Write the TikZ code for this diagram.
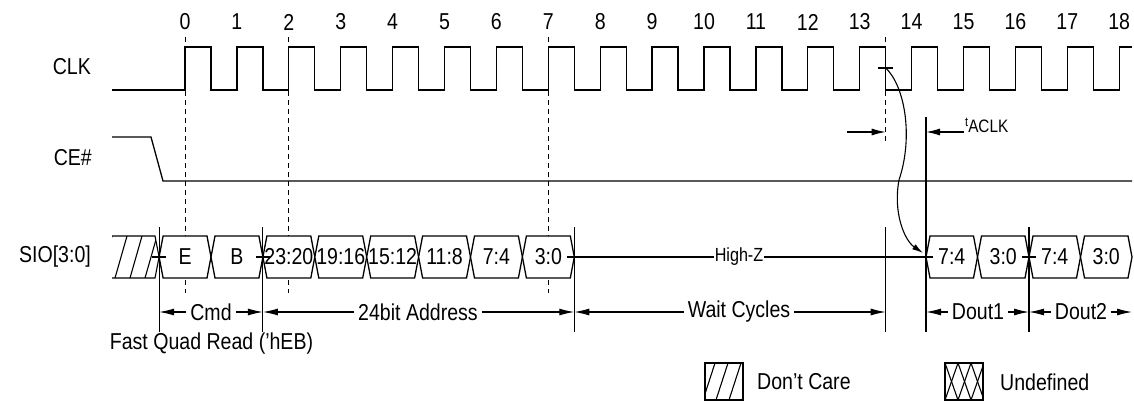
\documentclass[tikz,border=0pt]{standalone}
\usepackage{fontspec}
\setmainfont[FakeStretch=0.85]{Liberation Sans}
\usetikzlibrary{arrows.meta}
\tikzset{
  sig/.style={line width=1.3pt, line join=miter},
  thin/.style={line width=1.1pt},
  dsh/.style={line width=0.9pt, dash pattern=on 5pt off 4pt},
  lab/.style={font=\fontsize{23}{26}\selectfont, inner sep=0pt},
  numlab/.style={font=\fontsize{23}{26}\selectfont, inner sep=0pt},
  celltext/.style={font=\fontsize{23}{26}\selectfont, inner sep=0pt},
  brlab/.style={font=\fontsize{23}{26}\selectfont, inner sep=4pt},
  br/.style={line width=1.1pt, -{Latex[length=15pt,width=7pt]}},
  tarr/.style={line width=1.1pt, -{Latex[length=14pt,width=7pt]}},
}
\newcommand\buscell[4]{%
  \draw[sig,fill=white] (#1,257) -- ({#1+4},236) -- ({#2-4},236) -- (#2,257) -- ({#2-4},278) -- ({#1+4},278) -- cycle;
  \node[celltext] (#4) at ({(#1+#2)/2},257) {#3};}
\begin{document}
\begin{tikzpicture}[x=1pt,y=-1pt]
\useasboundingbox[fill=white] (0,0) rectangle (1134,404);

% signal labels
\node[lab,anchor=east] (lclk) at (91,67) {CLK};
\node[lab,anchor=east] (lce) at (92,158) {CE\#};
\node[lab,anchor=east] (lsio) at (91,257) {SIO[3:0]};

% cycle numbers
\foreach \i in {0,...,18} \node[numlab] (n\i) at ({185+51.9*\i},22) {\i};

% dashed reference lines
\draw[dsh] (185,37) -- (185,293);
\draw[dsh] (288.8,37) -- (288.8,293);
\draw[dsh] (548.3,37) -- (548.3,293);
\draw[dsh] (885.7,37) -- (885.7,143);

% clock
\draw[sig] (112,90) foreach \i in {0,...,17} { -- ({185+51.9*\i},90) -- ({185+51.9*\i},47) -- ({211+51.9*\i},47) -- ({211+51.9*\i},90) } -- (1119.2,90) -- (1119.2,47) -- (1132,47);

% CE#
\draw[sig] (112,137) -- (151,137) -- (163,181) -- (1132,181);

% don't care region on bus
\begin{scope}
  \clip (112,236) -- (155,236) -- (159.1,257) -- (155,278) -- (112,278) -- cycle;
  \foreach \x in {100,115,...,160} \draw[thin] (\x,278) -- ({\x+12},236);
\end{scope}
\draw[thin] (112,236) -- (155,236) -- (159.1,257) -- (155,278) -- (112,278);

% bus cells
\buscell{159.1}{211}{E}{cE}
\buscell{211}{262.9}{B}{cB}
\buscell{262.9}{314.8}{23:20}{a1}
\buscell{314.8}{366.7}{19:16}{a2}
\buscell{366.7}{418.6}{15:12}{a3}
\buscell{418.6}{470.5}{11:8}{a4}
\buscell{470.5}{522.4}{7:4}{a5}
\buscell{522.4}{574.3}{3:0}{a6}
\buscell{926}{977.5}{7:4}{d1}
\buscell{977.5}{1029}{3:0}{d2}
\buscell{1029}{1080.5}{7:4}{d3}
\buscell{1080.5}{1132}{3:0}{d4}

% High-Z
\node[font=\fontsize{19}{21}\selectfont, inner sep=1pt] (hz) at (739,257) {High-Z};
\draw[thin] (580,257) -- (hz.west);
\draw[thin] (hz.east) -- (d1.west -| 926,257);

% transition ticks
\foreach \x in {159.1,262.9,574.3,926,1029} \draw[thin] ({\x-7},257) -- ({\x+7},257);

% vertical marker lines
\coordinate (v0) at (159.1,312);
\coordinate (v1) at (262.9,312);
\coordinate (v2) at (574.3,312);
\coordinate (v3) at (885.7,312);
\coordinate (v4) at (926,312);
\coordinate (v5) at (1029,312);
\coordinate (v6) at (1132,312);
\foreach \x in {159.1,262.9,574.3,885.7,1029} \draw[thin] (\x,227) -- (\x,332);
\draw[thin] (926,117) -- (926,332);

% bracket labels
\node[brlab] (cmd) at (211,312) {Cmd};
\node[brlab] (addr) at (418,312) {24bit Address};
\node[brlab] (wait) at (739,312) {Wait Cycles};
\node[brlab] (do1) at (978,312) {Dout1};
\node[brlab] (do2) at (1081,312) {Dout2};
\draw[br] (cmd.west) -- (v0);  \draw[br] (cmd.east) -- (v1);
\draw[br] (addr.west) -- (v1); \draw[br] (addr.east) -- (v2);
\draw[br] (wait.west) -- (v2); \draw[br] (wait.east) -- (v3);
\draw[br] (do1.west) -- (v4);  \draw[br] (do1.east) -- (v5);
\draw[br] (do2.west) -- (v5);  \draw[br] (do2.east) -- (v6);

\node[lab] (fqr) at (211.5,344) {Fast Quad Read ('hEB)};

% tACLK
\coordinate (ta1) at (847,132);
\coordinate (ta2) at (885.7,132);
\coordinate (tb1) at (964,132);
\coordinate (tb2) at (926,132);
\draw[tarr] (ta1) -- (ta2);
\draw[tarr] (tb1) -- (tb2);
\node[anchor=west, inner sep=0pt] (tacl) at (965,125) {\raisebox{6pt}{\fontsize{13}{14}\selectfont t}\fontsize{18}{20}\selectfont ACLK};

% curved access arrow
\coordinate (cs) at (885.7,68);
\coordinate (ce) at (923,253);
\draw[thin] (878,68) -- (893,68);
\draw[thin, -{Latex[length=11pt,width=6pt]}] (cs) .. controls (904,85) and (914,135) .. (899,180) .. controls (893,212) and (904,240) .. (ce);

% legend
\begin{scope}
  \clip (705,363) rectangle (743,400);
  \foreach \x in {690,703,...,750} \draw[thin] (\x,400) -- ({\x+12},363);
\end{scope}
\draw[thin] (705,363) rectangle (743,400);
\node[lab,anchor=west] (ldc) at (757,382) {Don't Care};

\begin{scope}
  \clip (945,363) rectangle (983,400);
  \foreach \x in {919,932,...,996} {
    \draw[thin] (\x,400) -- ({\x+13},363);
    \draw[thin] (\x,363) -- ({\x+13},400);
  }
\end{scope}
\draw[thin] (945,363) rectangle (983,400);
\node[lab,anchor=west] (lud) at (1000,382) {Undefined};
\end{tikzpicture}
\end{document}
